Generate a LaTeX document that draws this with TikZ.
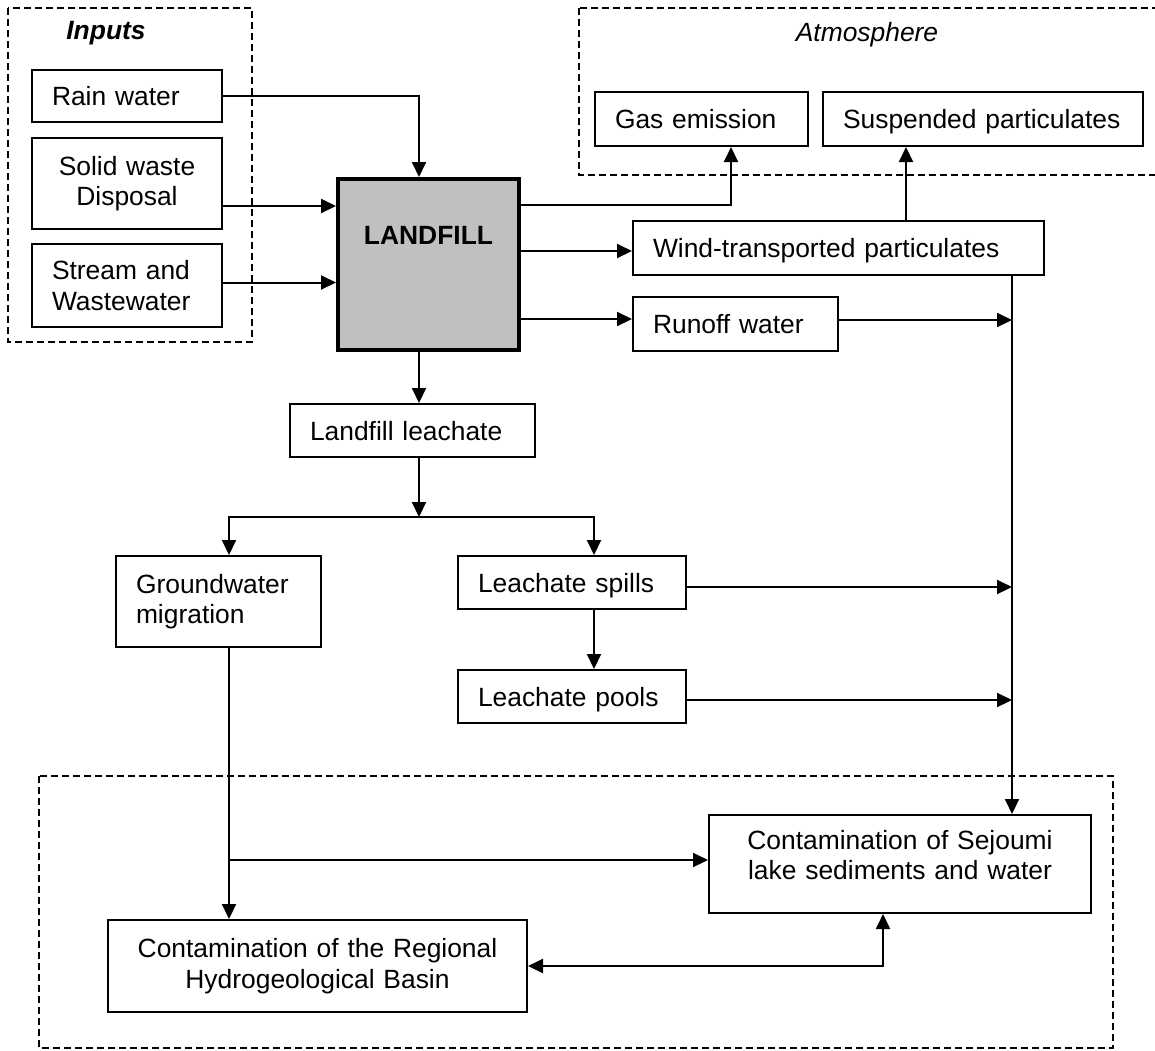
\documentclass[tikz,border=0pt]{standalone}
\usepackage{fontspec}
\setmainfont{Liberation Sans}
\usetikzlibrary{arrows.meta}
\definecolor{landgray}{RGB}{192,192,192}

\begin{document}
\fontsize{26.4}{30.5}\selectfont
\begin{tikzpicture}[x=1pt, y=-1pt,
		box/.style={draw, line width=2pt, anchor=north west, inner ysep=0pt, inner xsep=20pt, align=left},
		onebox/.style={box, text height=19pt, text depth=0pt},
		group/.style={draw, line width=1.5pt, dash pattern=on 7pt off 4pt},
		arr/.style={line width=2pt, -{Triangle[length=15pt,width=14pt]}},
		dbl/.style={line width=2pt, {Triangle[length=15pt,width=14pt]}-{Triangle[length=15pt,width=14pt]}}]
				\useasboundingbox (0,0) rectangle (1155,1050);
				
				\draw[group] (8,8) rectangle (252,342);
				\draw[group] (579,8) rectangle (1175,175);
				\draw[group] (39,776) rectangle (1113,1048);
				\node[font=\bfseries\itshape] (inputs) at (106,33) {Inputs};
				\node[font=\itshape] (atmos) at (867,35) {Atmosphere};
				
				\node[onebox, text width=150pt, minimum height=52pt] (rain) at (31,69) {Rain water};
				\node[box, align=center, text width=150pt, minimum height=91pt] (solid) at (31,137) {Solid waste\\Disposal};
				\node[box, text width=150pt, minimum height=83pt] (stream) at (31,243) {Stream and\\Wastewater};
				\node[draw, line width=4pt, fill=landgray, anchor=north west, inner sep=0pt, minimum width=181pt, text height=65.5pt, text depth=105.5pt, font=\bfseries] (landfill) at (336,177) {LANDFILL};
				
				\node[onebox, text width=173pt, minimum height=54pt] (gas) at (594,91) {Gas emission};
				\node[onebox, text width=280pt, minimum height=54pt] (susp) at (822,91) {Suspended particulates};
				\node[onebox, text width=371pt, minimum height=54pt] (wind) at (632,220) {Wind-transported particulates};
				\node[onebox, text width=165pt, minimum height=54pt] (runoff) at (632,296) {Runoff water};
				
				\node[onebox, text width=205pt, minimum height=53pt] (leach) at (289,403) {Landfill leachate};
				\node[box, text width=165pt, minimum height=91pt] (ground) at (115,555) {Groundwater\\migration};
				\node[onebox, text width=188pt, minimum height=53pt] (spills) at (457,555) {Leachate spills};
				\node[onebox, text width=188pt, minimum height=53pt] (pools) at (457,669) {Leachate pools};
				
				\node[box, align=center, text width=342pt, minimum height=98pt, text depth=48.5pt] (sejoumi) at (708,814) {Contamination of Sejoumi\\lake sediments and water};
				\node[box, align=center, text width=379pt, minimum height=92pt] (regional) at (107,919) {Contamination of the Regional\\Hydrogeological Basin};
				
				\coordinate (lfin) at ([xshift=83pt]landfill.north west);
				\coordinate (lfout) at ([xshift=83pt]landfill.south west);
				\coordinate (sw) at ([yshift=-22.5pt]solid.east);
				\coordinate (st) at ([yshift=3pt]stream.east);
				\coordinate (ga) at ([yshift=-28pt]landfill.north east);
				\coordinate (wi) at ([yshift=-74pt]landfill.north east);
				\coordinate (ru) at ([yshift=-142pt]landfill.north east);
				\coordinate (gasin) at ([xshift=137pt]gas.south west);
				\coordinate (wup) at ([xshift=274pt]wind.north west);
				\coordinate (wdn) at ([xshift=380pt]wind.south west);
				\coordinate (ro) at ([yshift=4pt]runoff.east);
				\coordinate (sp) at ([yshift=-4.5pt]spills.east);
				\coordinate (po) at ([yshift=-3.5pt]pools.east);
				\coordinate (split) at (419,517);
				\coordinate (gin) at ([xshift=114pt]ground.north west);
				\coordinate (spin) at ([xshift=137pt]spills.north west);
				\coordinate (br) at ([yshift=4pt]sejoumi.west);
				\coordinate (sjb) at ([xshift=175pt]sejoumi.south west);
				
				\draw[arr] (rain.east) -| (lfin);
				\draw[arr] (sw) -- (sw -| landfill.west);
				\draw[arr] (st) -- (st -| landfill.west);
				\draw[arr] (ga) -| (gasin);
				\draw[arr] (wi) -- (wi -| wind.west);
				\draw[arr] (ru) -- (ru -| runoff.west);
				\draw[arr] (wup) -- (wup |- susp.south);
				\draw[arr] (wdn) -- (wdn |- sejoumi.north);
				\draw[arr] (ro) -- (ro -| wdn);
				\draw[arr] (sp) -- (sp -| wdn);
				\draw[arr] (po) -- (po -| wdn);
				
				\draw[arr] (lfout) -- (lfout |- leach.north);
				\draw[arr] (leach.south -| lfout) -- (split);
				\draw[arr] (split) -| (gin);
				\draw[arr] (split) -| (spin);
				\draw[arr] (spin |- spills.south) -- (spin |- pools.north);
				\draw[arr] (gin |- ground.south) -- (gin |- regional.north);
				\draw[arr] (gin |- br) -- (br);
				\draw[dbl] (regional.east) -| (sjb);
			\end{tikzpicture}
\end{document}
